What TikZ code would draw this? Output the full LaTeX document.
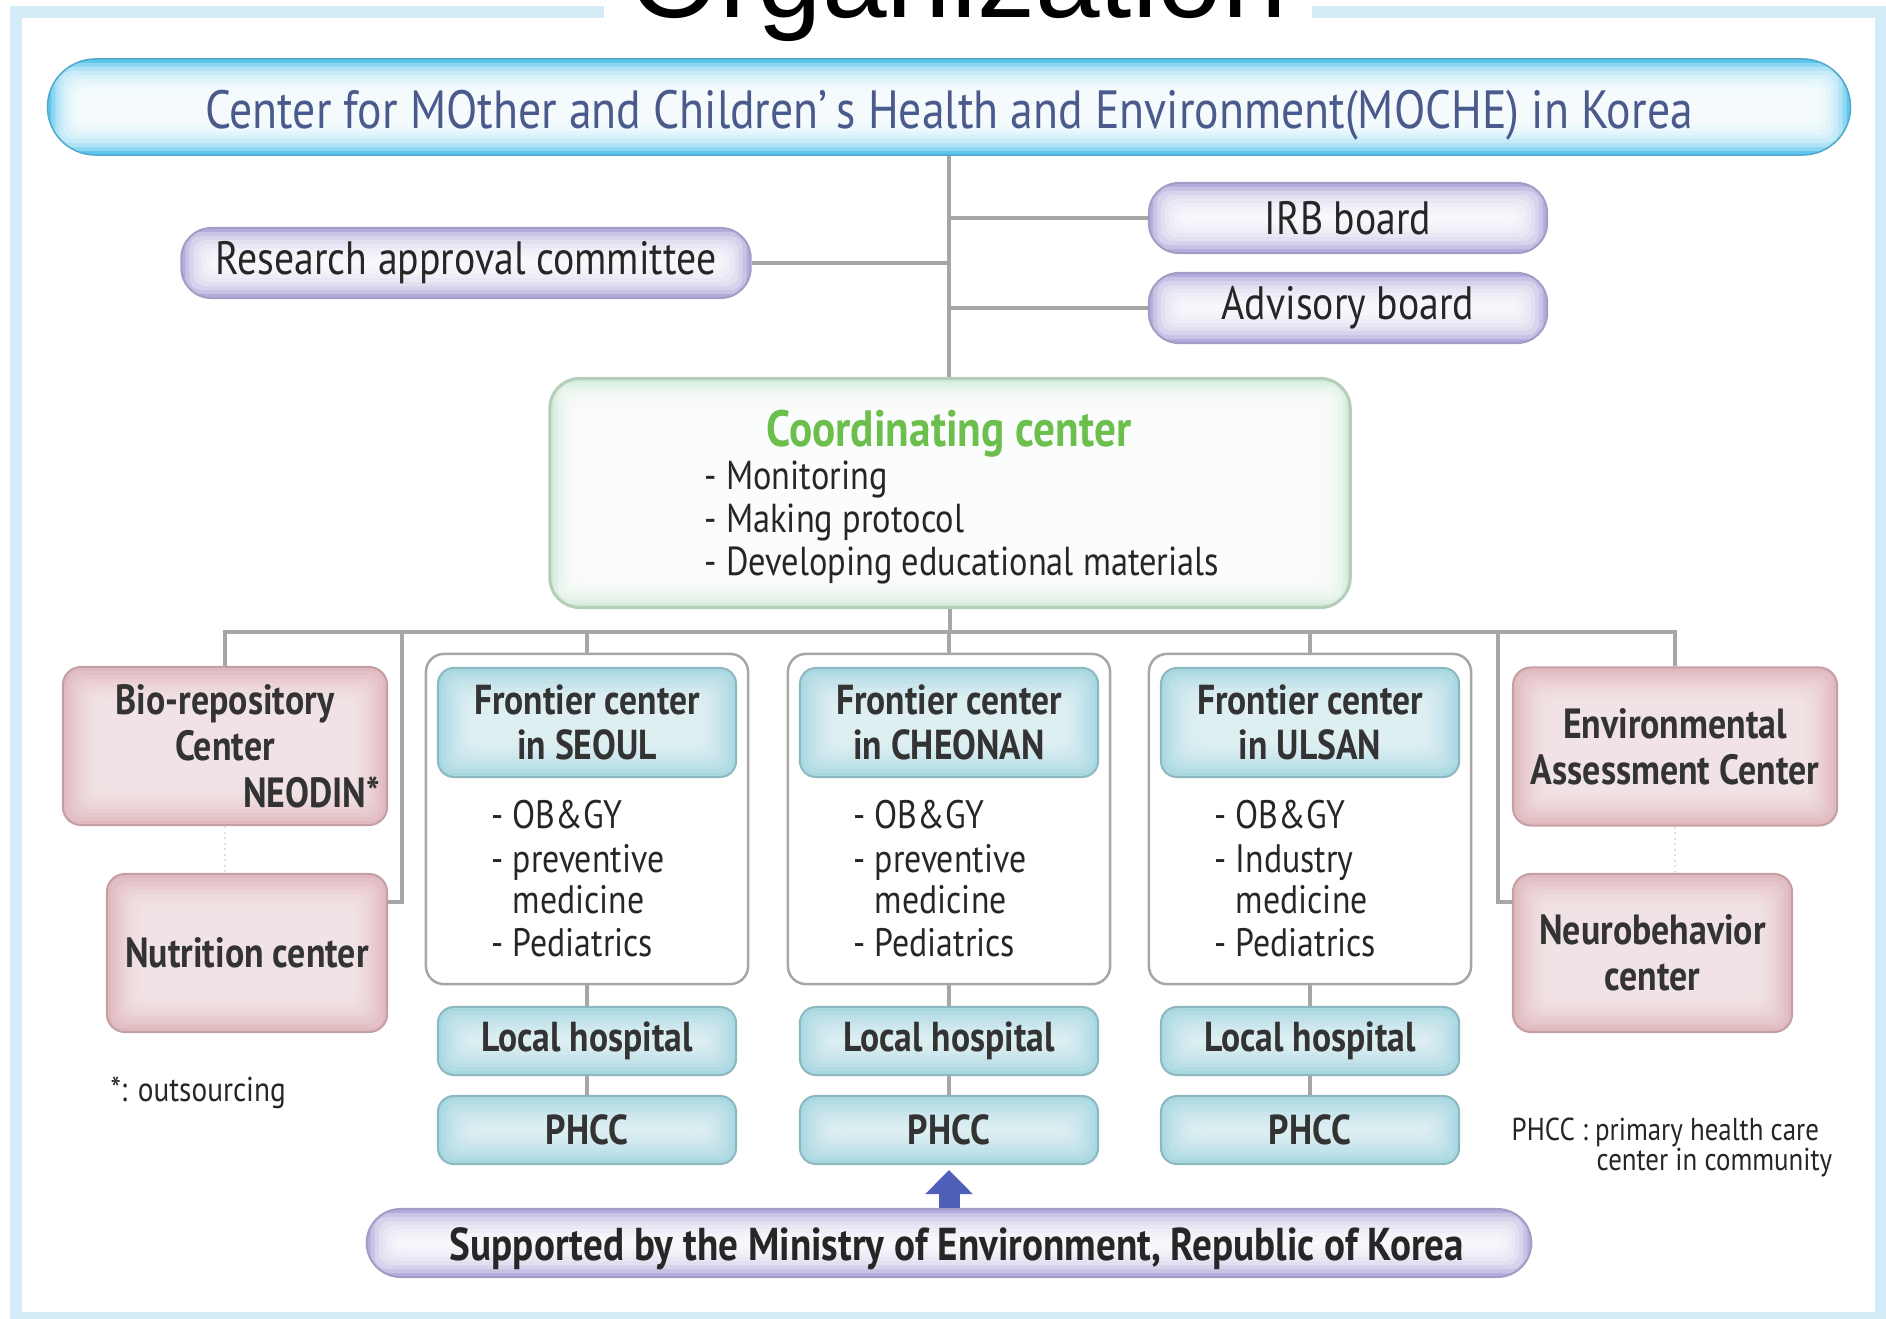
\documentclass[tikz,border=0pt]{standalone}
\usepackage{fontspec}
\setmainfont{PT Sans}[FakeStretch=0.85]
\newfontfamily\orgfont{Liberation Sans}
\usetikzlibrary{arrows.meta}
\definecolor{framecol}{HTML}{D3ECF8}
\definecolor{linecol}{HTML}{A6A6A6}
\definecolor{mochecol}{HTML}{5EC6EE}
\definecolor{mochetext}{HTML}{4A5A8C}
\definecolor{lavcol}{HTML}{B3ACDC}
\definecolor{lavedge}{HTML}{A39DC6}
\definecolor{mintcol}{HTML}{CFEAD6}
\definecolor{mintedge}{HTML}{B4CEB8}
\definecolor{coordtext}{HTML}{6CBF4C}
\definecolor{tealcol}{HTML}{A8D8E2}
\definecolor{tealedge}{HTML}{8EB8C0}
\definecolor{pinkcol}{HTML}{E0B8BD}
\definecolor{pinkedge}{HTML}{C4A0A4}
\definecolor{arrowcol}{HTML}{5060B8}

\begin{document}
\begin{tikzpicture}[x=0.01cm, y=-0.01cm,
    glowfill/.style 2 args={fill=#1, path picture={
      \foreach \k in {1,...,8}
        \fill[white, opacity=#2, rounded corners=0.12cm]
          ([shift={(\k*4,\k*4)}]path picture bounding box.north west) rectangle
          ([shift={(-\k*4,-\k*4)}]path picture bounding box.south east);}},
    link/.style={draw=linecol, line width=0.04cm},
    faint/.style={draw=black!12, line width=0.02cm, densely dotted},
    mochebar/.style={glowfill={mochecol}{0.3}, draw=mochecol!85!black, line width=0.015cm,
      rounded corners=0.48cm, minimum width=18.02cm, minimum height=0.96cm, inner sep=0,
      text height=0.42cm, text depth=0cm, text=mochetext, font=\fontsize{15.3}{17}\selectfont},
    pill/.style={glowfill={lavcol}{0.28}, draw=lavedge, line width=0.02cm, rounded corners=0.3cm,
      minimum height=0.7cm, inner sep=0, text=black!85, font=\fontsize{13.3}{15}\selectfont},
    mintbox/.style={glowfill={mintcol}{0.32}, draw=mintedge, line width=0.03cm, rounded corners=0.3cm,
      minimum width=8cm, minimum height=2.29cm, inner sep=0},
    frontbox/.style={fill=white, draw=black!35, line width=0.025cm, rounded corners=0.18cm,
      minimum width=3.22cm, minimum height=3.3cm, inner sep=0},
    tealbox/.style={glowfill={tealcol}{0.12}, draw=tealedge, line width=0.02cm, rounded corners=0.16cm,
      minimum width=2.98cm, minimum height=0.68cm, inner sep=0, align=center, text=black!80,
      font=\bfseries\fontsize{11.9}{12.8}\selectfont},
    pinkbox/.style={glowfill={pinkcol}{0.12}, draw=pinkedge, line width=0.02cm, rounded corners=0.18cm,
      minimum height=1.58cm, inner sep=0, align=center, text=black!80,
      font=\bfseries\fontsize{12}{13.2}\selectfont},
    bul/.style={anchor=base west, inner sep=0, text=black!85, font=\fontsize{11.3}{12}\selectfont},
    note/.style={anchor=base west, inner sep=0, text=black!85, font=\fontsize{9}{10}\selectfont}]
  \useasboundingbox (0,0) rectangle (1886,1319);
  \draw[framecol, line width=0.12cm] (16,12.5) rectangle (1881,1318);
  \node[fill=white, inner xsep=0.25cm, inner ysep=0, anchor=base,
    font=\orgfont\fontsize{33}{33}\selectfont] (org) at (958,18) {Organization};

  \node[mochebar] (moche) at (949,107) {Center for MOther and Children’\,s Health and Environment(MOCHE) in Korea};
  \node[pill, minimum width=5.69cm] (rac) at (466,263) {Research approval committee};
  \node[pill, minimum width=3.98cm] (irb) at (1348,218) {IRB board};
  \node[pill, minimum width=3.98cm] (adv) at (1348,308) {Advisory board};

  \node[mintbox] (coord) at (950,493) {};
  \node[anchor=base, inner sep=0, text=coordtext, font=\bfseries\fontsize{14.5}{15}\selectfont]
    (coordt) at (949,446) {Coordinating center};
  \foreach \t [count=\i] in {Monitoring, Making protocol, Developing educational materials}
    \node[bul, font=\fontsize{11.5}{12}\selectfont] (cb\i) at (704,{489+43*(\i-1)}) {- \t};

  \draw[link] (moche.south) -- (moche.south |- coord.north);
  \draw[link] (rac) -- (rac -| moche.south);
  \draw[link] (irb) -- (irb -| moche.south);
  \draw[link] (adv) -- (adv -| moche.south);

  \node[pinkbox, minimum width=3.24cm, text width=3.1cm] (bio) at (225,746)
    {Bio-repository\\Center\\\makebox[3.1cm][r]{NEODIN*}};
  \node[pinkbox, minimum width=2.8cm] (nutr) at (247,953) {Nutrition center};
  \node[pinkbox, minimum width=3.24cm] (env) at (1675,746.5) {Environmental\\Assessment Center};
  \node[pinkbox, minimum width=2.79cm] (neuro) at (1652.5,953) {Neurobehavior\\center};

  \coordinate (bus) at (949,632);
  \draw[link] (coord.south) -- (coord.south |- bus);
  \draw[link] (bio.north) |- (bus) -| (env.north);
  \draw[link] ([yshift=-0.29cm]nutr.north east) -- ++(14,0) |- (bus);
  \draw[link] ([yshift=-0.29cm]neuro.north west) -- ++(-14,0) |- (bus);
  \draw[faint] (bio.south) -- (bio.south |- nutr.north);
  \draw[faint] (env.south) -- (env.south |- neuro.north);

  \foreach \c/\x/\city/\spec in {1/587/SEOUL/preventive, 2/949/CHEONAN/preventive, 3/1310/ULSAN/Industry}
  {
    \node[frontbox] (fo\c) at (\x,819) {};
    \node[tealbox, minimum height=1.09cm] (fh\c) at (\x,722.5) {Frontier center\\in \city};
    \node[bul] (fa\c) at (\x-96,828) {- OB\&GY};
    \node[bul] (fb\c) at (\x-96,872) {- \spec};
    \node[bul] (fc\c) at (\x-96,913) {\hphantom{- }medicine};
    \node[bul] (fd\c) at (\x-96,956) {- Pediatrics};
    \node[tealbox] (lh\c) at (\x,1041) {Local hospital};
    \node[tealbox] (ph\c) at (\x,1130) {PHCC};
    \draw[link] (fo\c) -- (fo\c |- bus);
    \draw[link] (fo\c) -- (lh\c);
    \draw[link] (lh\c) -- (ph\c);
  }

  \node[pill, minimum width=11.64cm, minimum height=0.68cm, rounded corners=0.34cm,
    text height=0.34cm, text depth=0cm, font=\bfseries\fontsize{13.1}{14}\selectfont] (supp) at (949,1243)
    {\hspace*{0.16cm}Supported by the Ministry of Environment, Republic of Korea};
  \draw[-{Triangle[length=0.24cm, width=0.46cm]}, arrowcol, line width=0.21cm,
    shorten >=0.05cm] (supp.north) -- (ph2.south);

  \node[note, font=\fontsize{9.8}{10}\selectfont] (outs) at (110,1101) {*: outsourcing};
  \node[note] (phn1) at (1511,1140) {PHCC : primary health care};
  \node[note] (phn2) at (1596,1170) {center in community};
\end{tikzpicture}
\end{document}
